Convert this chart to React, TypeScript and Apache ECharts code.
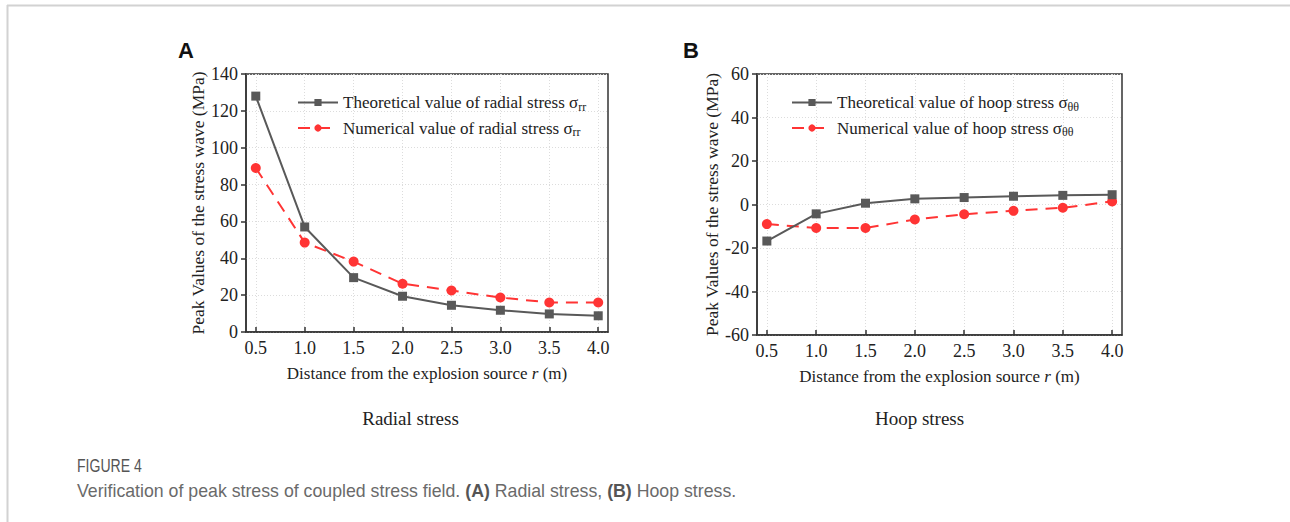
import React, { useEffect, useRef } from "react";
import * as echarts from "echarts";

// Distance from the explosion source r (m)
const distances = [0.5, 1.0, 1.5, 2.0, 2.5, 3.0, 3.5, 4.0];
const xTickValues = [0.5, 1.0, 1.5, 2.0, 2.5, 3.0, 3.5, 4.0];

// Peak radial stress (MPa)
const radialTheoretical = [128, 57, 29.5, 19.4, 14.5, 11.8, 9.8, 8.8];
const radialNumerical = [89, 48.5, 38.2, 26.2, 22.5, 18.7, 16, 16];

// Peak hoop stress (MPa)
const hoopTheoretical = [-16.8, -4.3, 0.6, 2.6, 3.2, 3.8, 4.2, 4.5];
const hoopNumerical = [-9.0, -10.8, -10.8, -6.9, -4.5, -2.9, -1.5, 1.4];

const radialLegend = ["Theoretical value of radial stress", "Numerical value of radial stress"];
const hoopLegend = ["Theoretical value of hoop stress", "Numerical value of hoop stress"];

const SERIF = "'Liberation Serif', 'Times New Roman', serif";
const SANS = "'Liberation Sans', Arial, sans-serif";
const GRAY = "#595959";
const RED = "#ff3434";
const AXIS = "#333333";

const pairs = (ys: number[]) => distances.map((x, i) => [x, ys[i]]);

function xAxisFor(gridIndex: number) {
  return {
    type: "value",
    gridIndex,
    min: 0.4,
    max: 4.1,
    name: "{n|Distance from the explosion source }{i|r}{n| (m)}",
    nameLocation: "middle",
    nameGap: 33,
    nameTextStyle: {
      rich: {
        n: { fontFamily: SERIF, fontSize: 17, color: "#222" },
        i: { fontFamily: SERIF, fontSize: 17, color: "#222", fontStyle: "italic" },
      },
    },
    axisLine: { show: true, onZero: false, lineStyle: { color: AXIS, width: 1.5 } },
    axisTick: {
      show: true,
      inside: true,
      length: 5,
      customValues: xTickValues,
      lineStyle: { color: AXIS, width: 1.5 },
    },
    axisLabel: {
      customValues: xTickValues,
      margin: 7,
      fontFamily: SERIF,
      fontSize: 18,
      color: "#222",
      formatter: (v: number) => v.toFixed(1),
    },
    splitLine: { show: true, lineStyle: { color: "#dcdcdc", type: [1, 2], width: 1 } },
  };
}

function yAxisFor(gridIndex: number, min: number, max: number) {
  return {
    type: "value",
    gridIndex,
    min,
    max,
    interval: 20,
    name: "Peak Values of the stress wave (MPa)",
    nameLocation: "middle",
    nameGap: 36,
    nameTextStyle: { fontFamily: SERIF, fontSize: 17.5, color: "#222" },
    axisLine: { show: true, onZero: false, lineStyle: { color: AXIS, width: 1.5 } },
    axisTick: { show: true, inside: false, length: 5, lineStyle: { color: AXIS, width: 1.5 } },
    axisLabel: { margin: 8, fontFamily: SERIF, fontSize: 18, color: "#222" },
    splitLine: { show: true, lineStyle: { color: "#dcdcdc", type: [1, 2], width: 1 } },
  };
}

function legendFor(names: string[], sub: string, left: number) {
  return {
    data: names,
    orient: "vertical",
    left,
    top: 94,
    padding: 0,
    itemWidth: 40,
    itemHeight: 9,
    itemGap: 7,
    formatter: (name: string) => `{m|${name} σ}{s|${sub}}`,
    textStyle: {
      fontFamily: SERIF,
      fontSize: 17,
      color: "#222",
      rich: {
        m: { fontFamily: SERIF, fontSize: 17, color: "#222", lineHeight: 20, verticalAlign: "middle" },
        s: { fontFamily: SERIF, fontSize: 12, color: "#222", lineHeight: 11, verticalAlign: "bottom" },
      },
    },
  };
}

function theoreticalSeries(name: string, data: number[], idx: number) {
  return {
    type: "line",
    name,
    xAxisIndex: idx,
    yAxisIndex: idx,
    data: pairs(data),
    symbol: "rect",
    symbolSize: 9,
    itemStyle: { color: GRAY },
    lineStyle: { color: GRAY, width: 2 },
    z: 3,
  };
}

function numericalSeries(name: string, data: number[], idx: number) {
  return {
    type: "line",
    name,
    xAxisIndex: idx,
    yAxisIndex: idx,
    data: pairs(data),
    symbol: "circle",
    symbolSize: 10,
    itemStyle: { color: RED },
    lineStyle: { color: RED, width: 2, type: [12, 8] },
    z: 2,
  };
}

export default function App() {
  const ref = useRef<HTMLDivElement>(null);

  useEffect(() => {
    if (!ref.current) return;
    const chart = echarts.init(ref.current, undefined, { renderer: "svg" });
    const captionFont = SANS;
    chart.setOption({
      animation: false,
      backgroundColor: "#ffffff",
      grid: [
        { left: 246, top: 74, width: 362, height: 258, show: true, borderColor: AXIS, borderWidth: 1.5, backgroundColor: "transparent" },
        { left: 757, top: 74, width: 365, height: 261, show: true, borderColor: AXIS, borderWidth: 1.5, backgroundColor: "transparent" },
      ],
      xAxis: [xAxisFor(0), xAxisFor(1)],
      yAxis: [yAxisFor(0, 0, 140), yAxisFor(1, -60, 60)],
      legend: [legendFor(radialLegend, "rr", 297), legendFor(hoopLegend, "θθ", 791)],
      series: [
        theoreticalSeries(radialLegend[0], radialTheoretical, 0),
        numericalSeries(radialLegend[1], radialNumerical, 0),
        theoreticalSeries(hoopLegend[0], hoopTheoretical, 1),
        numericalSeries(hoopLegend[1], hoopNumerical, 1),
      ],
      graphic: [
        // page frame
        { type: "line", shape: { x1: 7, y1: 5.5, x2: 1290, y2: 5.5 }, style: { stroke: "#d2d2d2", lineWidth: 2 } },
        { type: "line", shape: { x1: 7.5, y1: 5, x2: 7.5, y2: 522 }, style: { stroke: "#d2d2d2", lineWidth: 2 } },
        // panel letters
        { type: "text", x: 178, y: 50, style: { text: "A", font: `bold 22px ${SANS}`, fill: "#111", verticalAlign: "middle" } },
        { type: "text", x: 683, y: 50, style: { text: "B", font: `bold 22px ${SANS}`, fill: "#111", verticalAlign: "middle" } },
        // panel captions
        { type: "text", x: 410.5, y: 418, style: { text: "Radial stress", font: `19px ${SERIF}`, fill: "#222", align: "center", verticalAlign: "middle" } },
        { type: "text", x: 919.5, y: 418, style: { text: "Hoop stress", font: `19px ${SERIF}`, fill: "#222", align: "center", verticalAlign: "middle" } },
        // figure caption
        { type: "text", x: 77, y: 466, scaleX: 0.74, style: { text: "FIGURE 4", font: `19px ${captionFont}`, fill: "#555", verticalAlign: "middle" } },
        {
          type: "text",
          x: 77,
          y: 491,
          scaleX: 0.985,
          style: {
            text: "{r|Verification of peak stress of coupled stress field. }{b|(A)}{r| Radial stress, }{b|(B)}{r| Hoop stress.}",
            verticalAlign: "middle",
            rich: {
              r: { fontFamily: captionFont, fontSize: 18, fill: "#6a6a6a" },
              b: { fontFamily: captionFont, fontSize: 18, fontWeight: "bold", fill: "#555" },
            },
          },
        },
      ],
    });
    return () => chart.dispose();
  }, []);

  return (
    <div
      ref={ref}
      style={{ position: "absolute", left: 0, top: 0, width: 1290, height: 522 }}
    />
  );
}
